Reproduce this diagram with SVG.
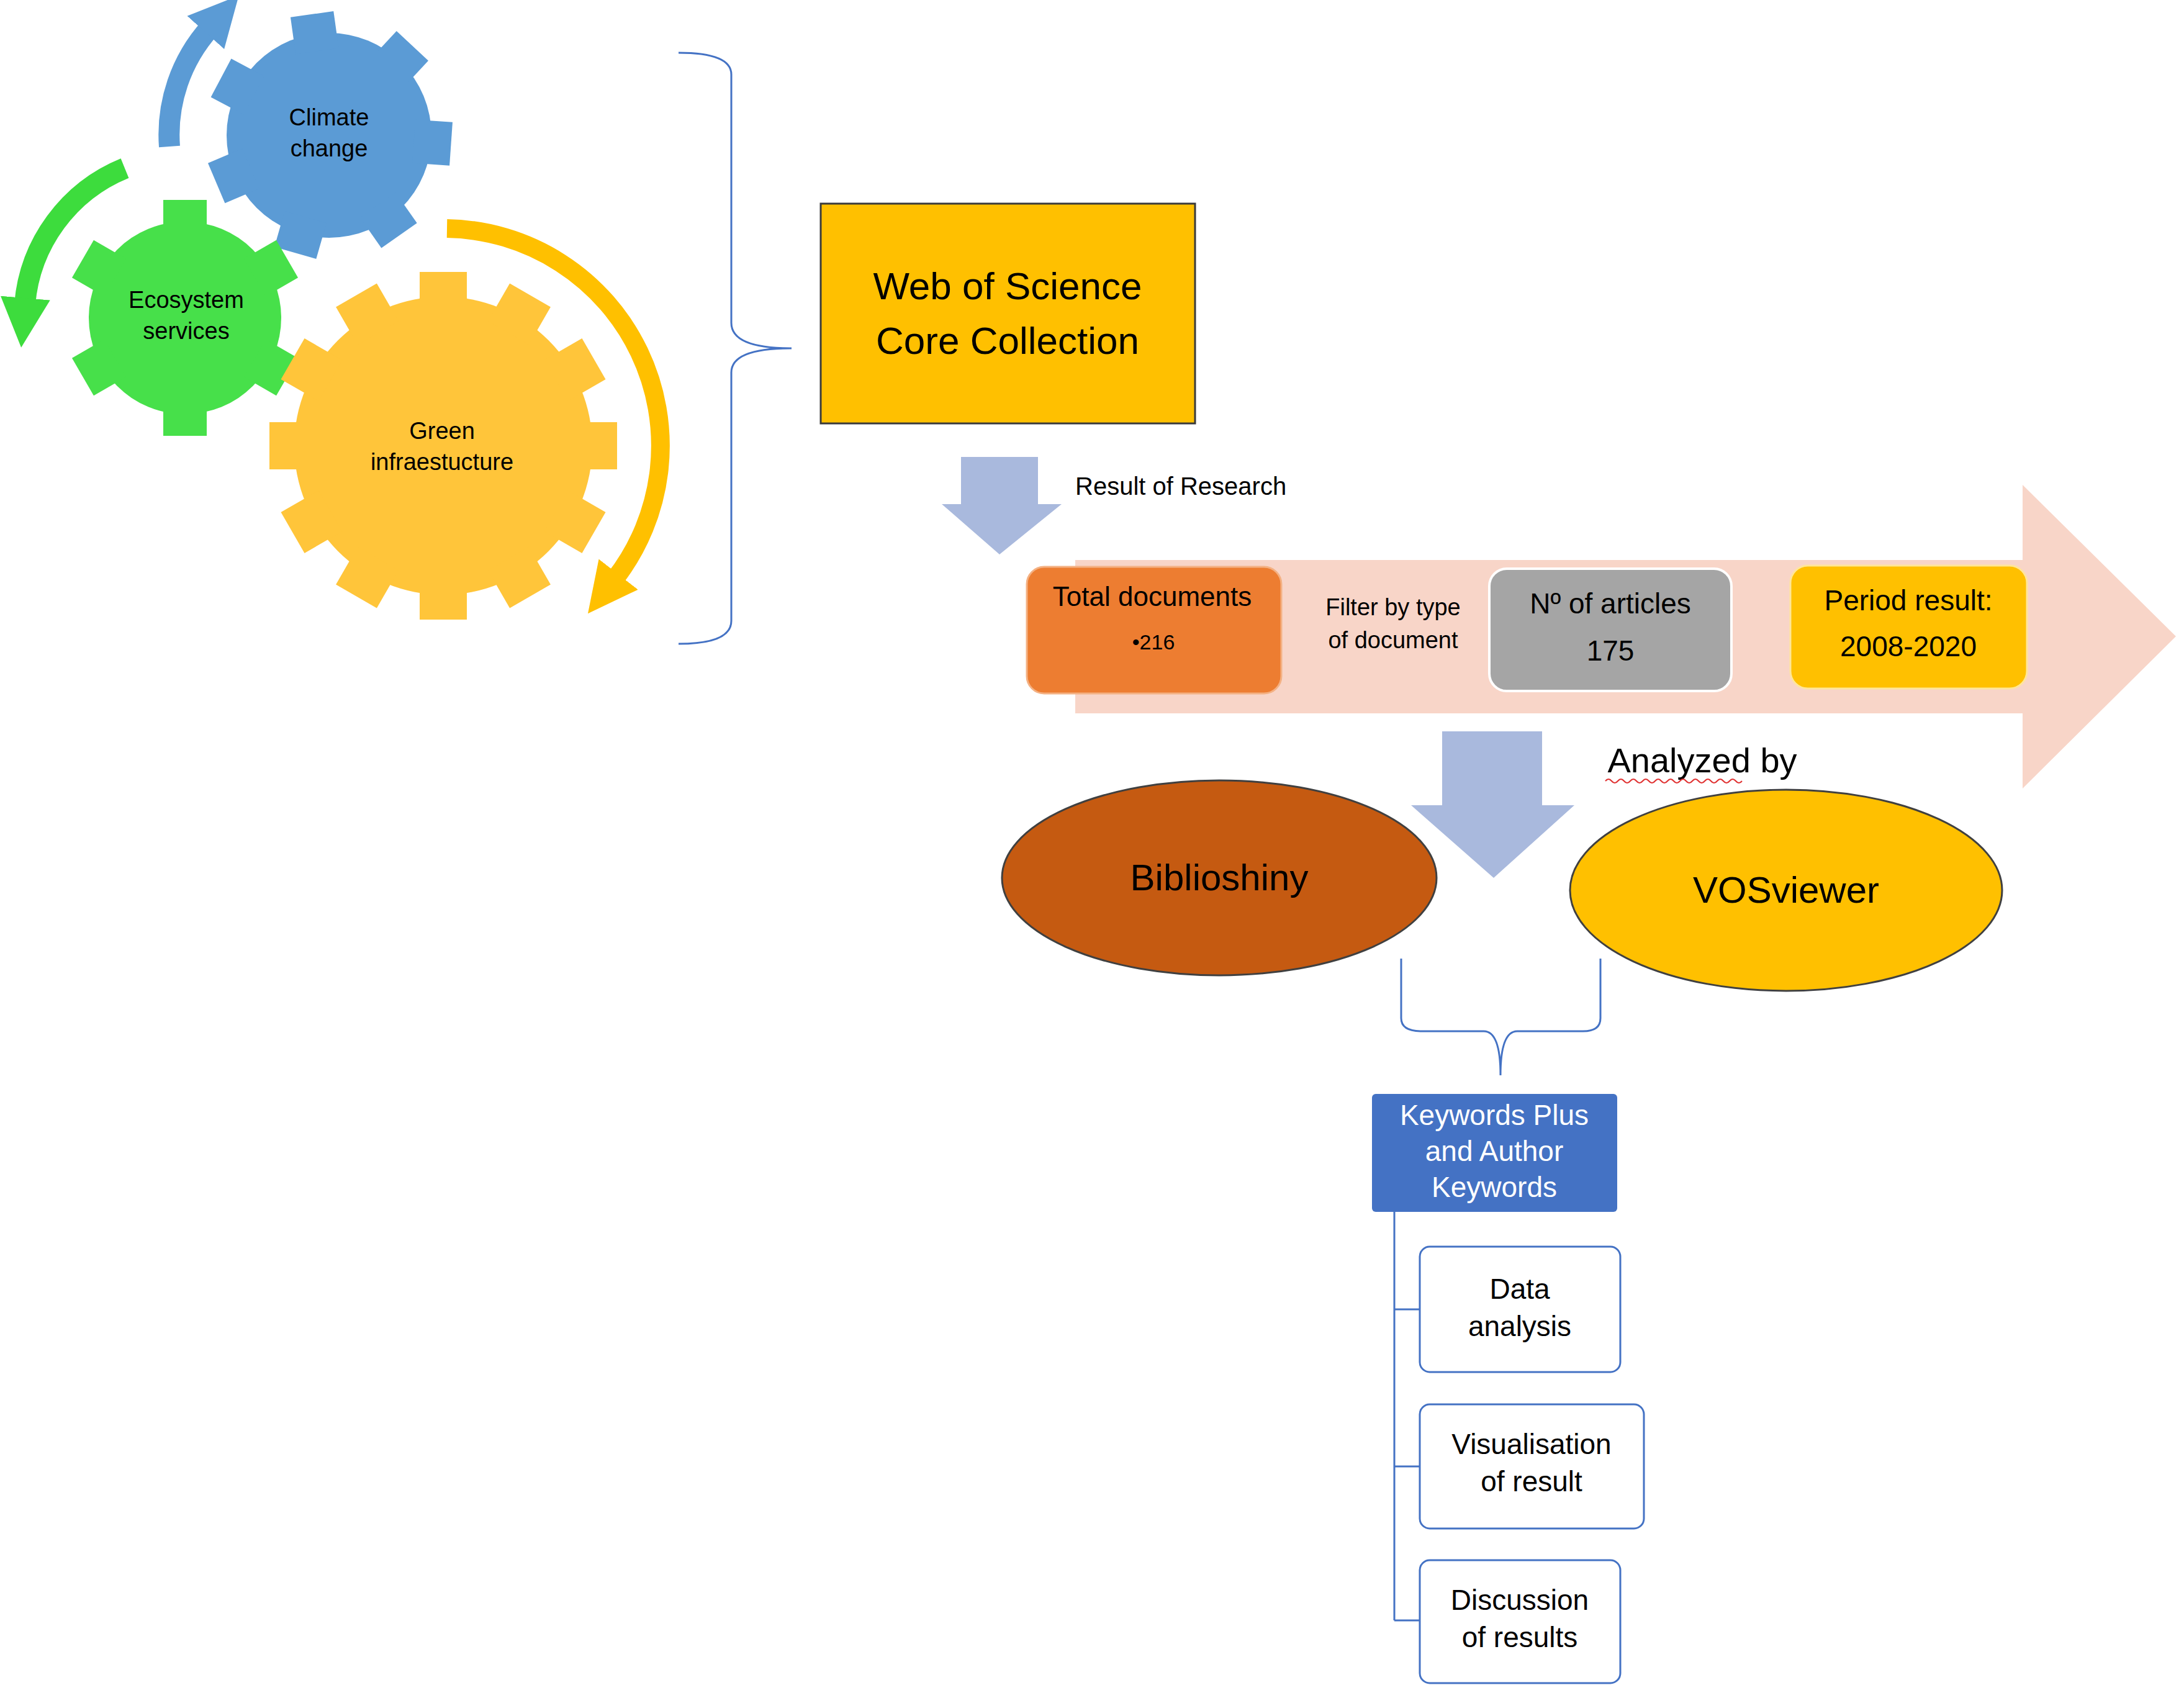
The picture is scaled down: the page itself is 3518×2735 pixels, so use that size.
<svg xmlns="http://www.w3.org/2000/svg" width="3518" height="2735" viewBox="0 0 3518 2735">
<style>
text{font-family:"Liberation Sans",Arial,sans-serif;fill:#000;text-anchor:middle}
.box{stroke:#4472C4;stroke-width:3;fill:#fff}
.br{fill:none;stroke:#4472C4;stroke-width:3}
.sq{fill:none;stroke:#E03030;stroke-width:2}
</style>
<defs>
<marker id="mb" markerUnits="userSpaceOnUse" markerWidth="90" markerHeight="90" refX="10" refY="45" orient="auto"><path d="M0,5 L80,45 L0,85 Z" fill="#5B9BD5"/></marker>
<marker id="mg" markerUnits="userSpaceOnUse" markerWidth="90" markerHeight="90" refX="10" refY="45" orient="auto"><path d="M0,5 L80,45 L0,85 Z" fill="#3DDC3D"/></marker>
<marker id="my" markerUnits="userSpaceOnUse" markerWidth="90" markerHeight="90" refX="10" refY="45" orient="auto"><path d="M0,5 L80,45 L0,85 Z" fill="#FFC000"/></marker>
<rect id="t1" x="-35" y="-197" width="70" height="60"/>
<rect id="t2" x="-35" y="-190" width="70" height="60"/>
<rect id="t3" x="-38" y="-280" width="76" height="70"/>
</defs>
<g id="connectors">
<path d="M273,236 A258,258 0 0 1 338,45" fill="none" stroke="#5B9BD5" stroke-width="34" marker-end="url(#mb)"/>
<path d="M201,271 A260,260 0 0 0 40,490" fill="none" stroke="#3DDC3D" stroke-width="34" marker-end="url(#mg)"/>
<path d="M720,368 A350,350 0 0 1 990,933" fill="none" stroke="#FFC000" stroke-width="30" marker-end="url(#my)"/>
<path class="br" d="M1093,85 Q1178,85 1178,120 L1178,520 Q1178,561 1275,561 Q1178,561 1178,600 L1178,1000 Q1178,1037 1093,1037"/>
<path d="M1548,736 H1672 V812 H1710 L1610,893 L1517,812 H1548 Z" fill="#A9B9DD"/>
<path d="M1732,902 H3258 V781 L3505,1025 L3258,1270 V1149 H1732 Z" fill="#F8D5C8"/>
<path d="M2323,1178 H2484 V1297 H2536 L2406,1414 L2273,1297 H2323 Z" fill="#A9B9DD"/>
<path class="br" d="M2257,1544 V1640 Q2257,1661 2290,1661 H2390 Q2417,1661 2417,1732 Q2417,1661 2444,1661 H2550 Q2578,1661 2578,1640 V1544"/>
<path class="br" d="M2246,1952 V2610 M2246,2109 H2287 M2246,2362 H2287 M2246,2610 H2287"/>
</g>
<g id="climate">
<g transform="translate(530,218)" fill="#5B9BD5">
<circle r="165"/>
<use href="#t1" transform="rotate(-8)"/><use href="#t1" transform="rotate(43)"/><use href="#t1" transform="rotate(94)"/><use href="#t1" transform="rotate(145)"/><use href="#t1" transform="rotate(196)"/><use href="#t1" transform="rotate(247)"/><use href="#t1" transform="rotate(298)"/>
</g>
<text x="530" y="202" font-size="38">Climate</text><text x="530" y="252" font-size="38">change</text>
</g>
<g id="ecosystem">
<g transform="translate(298,512)" fill="#47E04A">
<circle r="155"/>
<use href="#t2" transform="rotate(0)"/><use href="#t2" transform="rotate(60)"/><use href="#t2" transform="rotate(120)"/><use href="#t2" transform="rotate(180)"/><use href="#t2" transform="rotate(240)"/><use href="#t2" transform="rotate(300)"/>
</g>
<text x="300" y="496" font-size="38">Ecosystem</text><text x="300" y="546" font-size="38">services</text>
</g>
<g id="green">
<g transform="translate(714,718)" fill="#FFC53A">
<circle r="240"/>
<use href="#t3" transform="rotate(0)"/><use href="#t3" transform="rotate(30)"/><use href="#t3" transform="rotate(60)"/><use href="#t3" transform="rotate(90)"/><use href="#t3" transform="rotate(120)"/><use href="#t3" transform="rotate(150)"/><use href="#t3" transform="rotate(180)"/><use href="#t3" transform="rotate(210)"/><use href="#t3" transform="rotate(240)"/><use href="#t3" transform="rotate(270)"/><use href="#t3" transform="rotate(300)"/><use href="#t3" transform="rotate(330)"/>
</g>
<text x="712" y="707" font-size="38">Green</text><text x="712" y="757" font-size="38">infraestucture</text>
</g>
<g id="wos">
<rect x="1322" y="328" width="603" height="354" fill="#FFC000" stroke="#3A3A3A" stroke-width="3"/>
<text x="1623" y="482" font-size="62">Web of Science</text><text x="1623" y="570" font-size="62">Core Collection</text>
</g>
<text x="1732" y="797" font-size="40" style="text-anchor:start">Result of Research</text>
<g id="total">
<rect x="1654" y="913" width="410" height="204" rx="28" fill="#ED7D31" stroke="#F4B183" stroke-width="3"/>
<text x="1856" y="976" font-size="44">Total documents</text><text x="1858" y="1046" font-size="34">•216</text>
</g>
<text x="2244" y="991" font-size="38">Filter by type</text><text x="2244" y="1044" font-size="38">of document</text>
<g id="articles">
<rect x="2399" y="916" width="390" height="197" rx="28" fill="#A5A5A5" stroke="#fff" stroke-width="4"/>
<text x="2594" y="988" font-size="46">Nº of articles</text><text x="2594" y="1064" font-size="46">175</text>
</g>
<g id="period">
<rect x="2884" y="911" width="381" height="198" rx="28" fill="#FFC000" stroke="#FFE699" stroke-width="3"/>
<text x="3074" y="983" font-size="46">Period result:</text><text x="3074" y="1057" font-size="46">2008-2020</text>
</g>
<text x="2742" y="1244" font-size="56">Analyzed by</text>
<path class="sq" d="M2586,1258 q5,-6 10,0 t10,0 t10,0 t10,0 t10,0 t10,0 t10,0 t10,0 t10,0 t10,0 t10,0 t10,0 t10,0 t10,0 t10,0 t10,0 t10,0 t10,0 t10,0 t10,0 t10,0 t10,0"/>
<g id="biblioshiny">
<ellipse cx="1964" cy="1414" rx="350" ry="157" fill="#C55A11" stroke="#404040" stroke-width="3"/>
<text x="1964" y="1434" font-size="60">Biblioshiny</text>
</g>
<g id="vosviewer">
<ellipse cx="2877" cy="1434" rx="348" ry="162" fill="#FFC000" stroke="#404040" stroke-width="3"/>
<text x="2877" y="1454" font-size="60">VOSviewer</text>
</g>
<g id="keywords">
<rect x="2210" y="1762" width="395" height="190" rx="6" fill="#4472C4"/>
<text x="2407" y="1812" font-size="46" style="fill:#fff">Keywords Plus</text>
<text x="2407" y="1870" font-size="46" style="fill:#fff">and Author</text>
<text x="2407" y="1928" font-size="46" style="fill:#fff">Keywords</text>
</g>
<g id="data">
<rect class="box" x="2287" y="2008" width="323" height="202" rx="16"/>
<text x="2448" y="2092" font-size="46">Data</text><text x="2448" y="2152" font-size="46">analysis</text>
</g>
<g id="visualisation">
<rect class="box" x="2287" y="2262" width="361" height="200" rx="16"/>
<text x="2467" y="2342" font-size="46">Visualisation</text><text x="2467" y="2402" font-size="46">of result</text>
</g>
<g id="discussion">
<rect class="box" x="2287" y="2513" width="323" height="198" rx="16"/>
<text x="2448" y="2593" font-size="46">Discussion</text><text x="2448" y="2653" font-size="46">of results</text>
</g>
</svg>
